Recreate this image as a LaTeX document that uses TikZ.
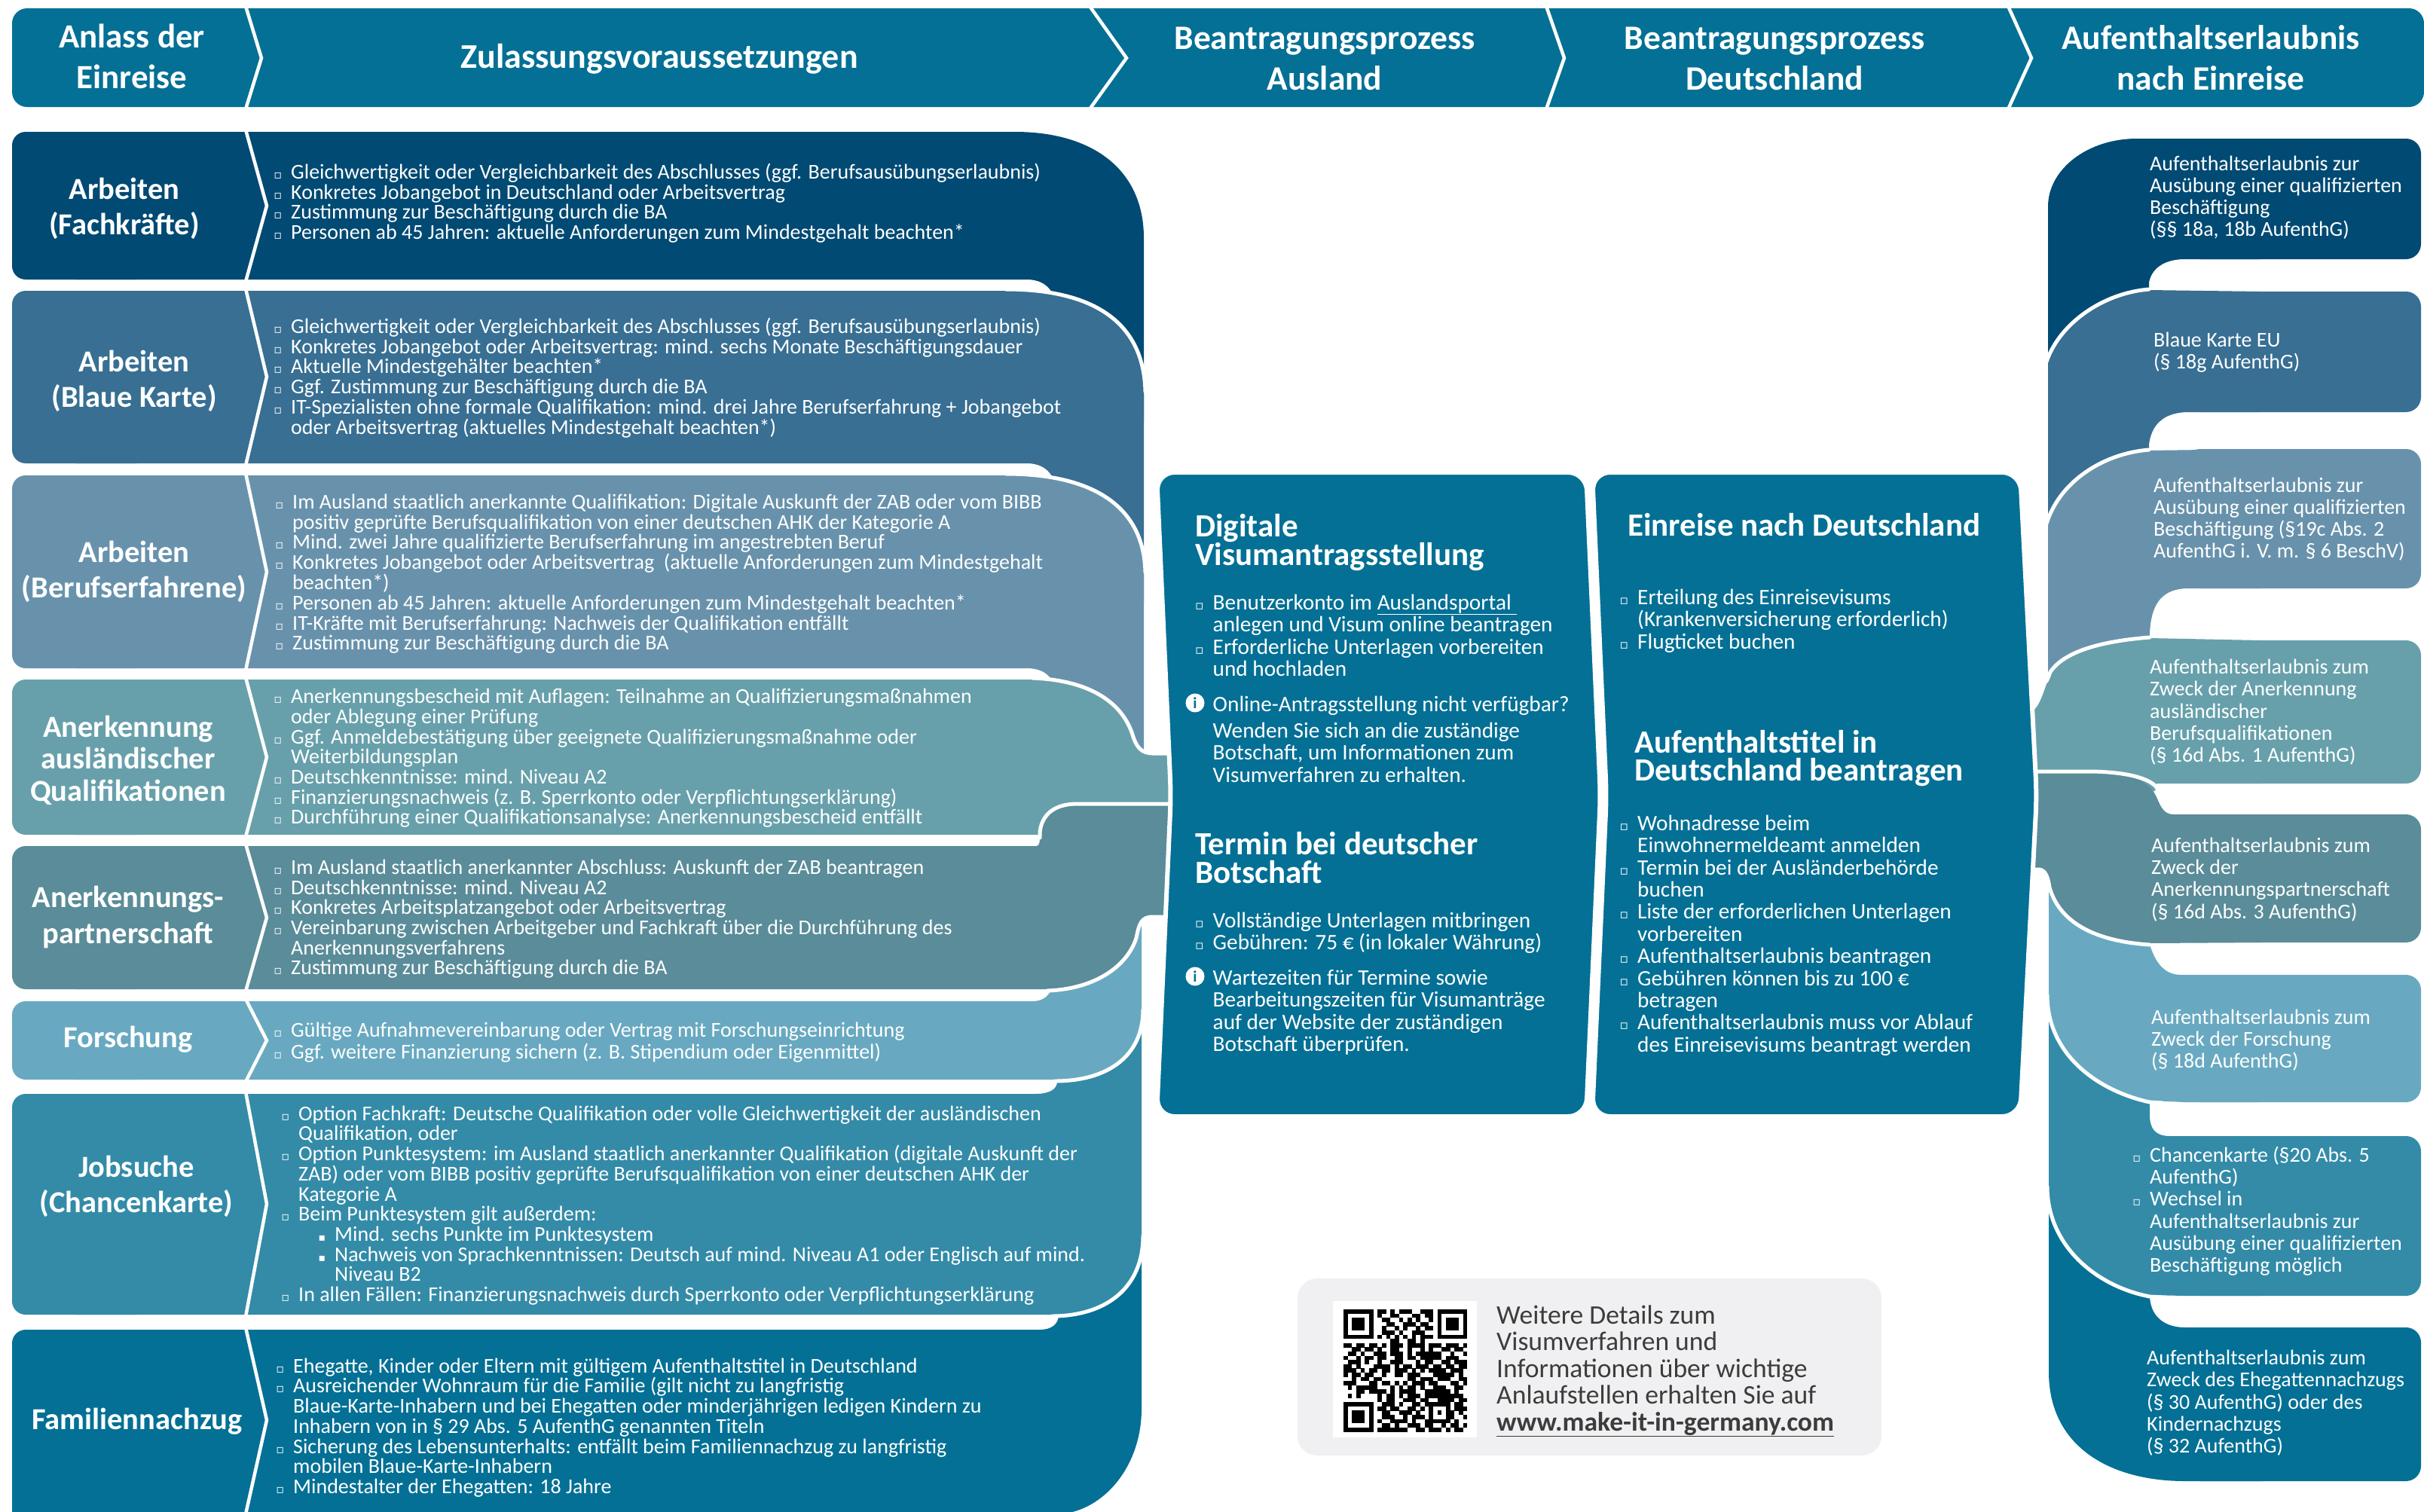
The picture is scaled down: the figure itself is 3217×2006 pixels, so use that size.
\documentclass[tikz,border=0pt]{standalone}
\usepackage{fontspec}
\setmainfont{Carlito}
\newfontfamily\symf{DejaVu Sans}
\definecolor{ca}{HTML}{004A73}
\definecolor{cb}{HTML}{386F93}
\definecolor{cc}{HTML}{6892AC}
\definecolor{cd}{HTML}{67A0AB}
\definecolor{ce}{HTML}{5A8C99}
\definecolor{cf}{HTML}{68A9C1}
\definecolor{cg}{HTML}{338BA8}
\definecolor{ch}{HTML}{047095}
\definecolor{cgrey}{HTML}{F0F0F2}
\definecolor{ctxt}{HTML}{3C3C3B}
\tikzset{
  txt/.style={anchor=north west,inner sep=0pt,align=left,text=white},
  hd/.style={anchor=center,inner sep=0pt,align=center,text=white},
  cut/.style={draw=white,line width=5pt,line cap=round},
  chev/.style={draw=white,line width=4.5pt},
  cbox/.style={fill=ch,draw=white,line width=6pt,rounded corners=24pt},
  infoi/.style={circle,fill=white,inner sep=0pt,minimum size=25pt,text=ch,font=\fontsize{21}{21}\selectfont\bfseries},
}
\newcommand\tb[6]{\node[txt,font=\fontsize{#4}{#5}\selectfont,yshift={0.8*#4-1}] (#1) at (#2,#3) {\leavevmode\rule{0pt}{0.8\dimexpr#4pt\relax}#6};}
\newcommand\tbb[6]{\node[txt,font=\fontsize{#4}{#5}\selectfont\bfseries,yshift={0.8*#4-1}] (#1) at (#2,#3) {\leavevmode\rule{0pt}{0.8\dimexpr#4pt\relax}#6};}
\newcommand\hdn[6]{\node[hd,font=\fontsize{#4}{#5}\selectfont\bfseries] (#1) at (#2,#3) {#6};}
\newcommand\bl{\leavevmode\llap{{\symf\fontsize{16}{16}\selectfont ▫}\hspace{12pt}}}
\newcommand\blb{\leavevmode\llap{{\symf\fontsize{17}{17}\selectfont ▫}\hspace{12pt}}}
\newcommand\sbl{\leavevmode\hspace*{48pt}\llap{{\symf\fontsize{14}{14}\selectfont ▪}\hspace{12pt}}}
\newcount\qrcol \newcount\qrrow
\def\qrline#1{\qrcol=0 \qrscan#1;\advance\qrrow by 1 }
\def\qrscan#1{\ifx#1;\else\ifnum#1=1 \fill[black] ({1783+5.66*\the\qrcol},{1738+5.6*\the\qrrow}) rectangle +(5.8,5.8);\fi\advance\qrcol by 1 \expandafter\qrscan\fi}
\newcommand\rrect[3]{\fill[#1,rounded corners=20pt] (2900,#2) rectangle (3213,#3);}
\begin{document}
\begin{tikzpicture}[x=1pt,y=-1pt]
\useasboundingbox (0,0) rectangle (3217,2006);
\clip (0,0) rectangle (3217,2006);
% header bar
\fill[ch,rounded corners=20pt] (16,11) rectangle (3217,142);
\draw[chev] (326,8) -- (347,77) -- (326,145);
\draw[chev] (1446,8) -- (1495,77) -- (1446,145);
\draw[chev] (2052,8) -- (2076,77) -- (2052,145);
\draw[chev] (2665,8) -- (2696,77) -- (2665,145);
\hdn{h1}{175}{75}{45}{54}{Anlass der\\Einreise}
\hdn{h2}{875}{78}{46}{54}{Zulassungsvoraussetzungen}
\hdn{h3}{1758}{78}{45.5}{54}{Beantragungsprozess\\Ausland}
\hdn{h4}{2355}{78}{45.5}{54}{Beantragungsprozess\\Deutschland}
\hdn{h5}{2934}{77}{45.5}{54}{Aufenthaltserlaubnis\\nach Einreise}
% left column: upper stack
\fill[ca] (100,175) -- (1347,175) .. controls (1450,175) and (1518,225) .. (1518,316) -- (1518,560) -- (1396,560) -- (1396,388) .. controls (1390,378) and (1380,371) .. (1362,371) -- (100,371) -- cycle;
\fill[ca,rounded corners=18pt] (16,175) rectangle (200,371);
\fill[cb] (100,386) -- (1335,386) .. controls (1440,386) and (1518,420) .. (1518,520) -- (1518,800) -- (1396,800) -- (1396,632) .. controls (1390,622) and (1380,615) .. (1362,615) -- (100,615) -- cycle;
\draw[cut] (1335,384) .. controls (1440,384) and (1518,420) .. (1520,520);
\fill[cb,rounded corners=18pt] (16,386) rectangle (200,615);
\fill[cc] (100,631) -- (1335,631) .. controls (1440,631) and (1518,665) .. (1518,760) -- (1518,1040) -- (1396,1040) -- (1396,903) .. controls (1390,893) and (1380,887) .. (1362,887) -- (100,887) -- cycle;
\draw[cut] (1335,629) .. controls (1440,629) and (1518,665) .. (1520,760);
\fill[cc,rounded corners=18pt] (16,631) rectangle (200,887);
\fill[cd] (100,902) -- (1370,902) .. controls (1450,905) and (1490,935) .. (1503,975) .. controls (1508,992) and (1515,1000) .. (1530,1000) -- (1600,1000) -- (1600,1067) -- (1430,1067) .. controls (1395,1067) and (1382,1085) .. (1380,1105) -- (1378,1108) -- (100,1108) -- cycle;
\draw[cut] (1370,900) .. controls (1450,903) and (1490,935) .. (1503,975) .. controls (1508,992) and (1515,1000) .. (1530,1000) -- (1600,1000);
\fill[cd,rounded corners=18pt] (16,902) rectangle (200,1108);
% left column: lower stack
\fill[ch] (100,1765) -- (1380,1765) .. controls (1395,1765) and (1405,1758) .. (1405,1745) -- (1405,1640) -- (1515,1640) -- (1515,1870) .. controls (1515,1950) and (1460,2010) .. (1400,2010) -- (100,2010) -- cycle;
\fill[ch,rounded corners=18pt] (16,1765) rectangle (200,2040);
\fill[cg] (100,1452) -- (1375,1452) .. controls (1390,1452) and (1403,1447) .. (1403,1436) -- (1403,1340) -- (1515,1340) -- (1515,1640) .. controls (1515,1710) and (1465,1745) .. (1400,1745) -- (100,1745) -- cycle;
\draw[cut] (1517,1640) .. controls (1517,1712) and (1465,1747) .. (1396,1747);
\fill[cg,rounded corners=18pt] (16,1452) rectangle (200,1745);
\fill[cf] (100,1329) -- (1370,1329) .. controls (1385,1329) and (1395,1322) .. (1400,1300) -- (1400,1200) -- (1515,1200) -- (1515,1340) .. controls (1515,1400) and (1470,1433) .. (1400,1433) -- (100,1433) -- cycle;
\draw[cut] (1517,1340) .. controls (1517,1402) and (1470,1435) .. (1400,1435);
\fill[cf,rounded corners=18pt] (16,1329) rectangle (200,1433);
\fill[ce] (100,1123) -- (1375,1123) .. controls (1380,1123) and (1380,1118) .. (1380,1105) .. controls (1382,1085) and (1395,1067) .. (1430,1067) -- (1600,1067) -- (1600,1217) -- (1530,1217) .. controls (1515,1217) and (1512,1225) .. (1508,1245) .. controls (1495,1285) and (1450,1313) .. (1390,1313) -- (100,1313) -- cycle;
\draw[cut] (1380,1112) -- (1380,1105) .. controls (1382,1085) and (1395,1067) .. (1430,1067) -- (1600,1067);
\draw[cut] (1600,1217) -- (1530,1217) .. controls (1515,1217) and (1512,1225) .. (1508,1245) .. controls (1495,1285) and (1450,1313) .. (1390,1315);
\fill[ce,rounded corners=18pt] (16,1123) rectangle (200,1313);
% chevrons on the rows
\draw[chev] (326,172) -- (354,273) -- (326,374);
\draw[chev] (326,383) -- (354,500) -- (326,618);
\draw[chev] (326,628) -- (354,759) -- (326,890);
\draw[chev] (326,899) -- (354,1005) -- (326,1111);
\draw[chev] (326,1120) -- (354,1218) -- (326,1316);
\draw[chev] (326,1326) -- (354,1381) -- (326,1436);
\draw[chev] (326,1449) -- (354,1598) -- (326,1748);
\draw[chev] (326,1762) -- (354,1885) -- (326,2010);
% right column: upper stack
\fill[ca] (3000,184) -- (2836,184) .. controls (2770,184) and (2718,225) .. (2718,274) -- (2718,520) -- (2852,520) -- (2852,375) .. controls (2855,358) and (2870,344) .. (2900,344) -- (3000,344) -- cycle;
\rrect{ca}{184}{344}
\fill[cb] (3000,387) -- (2852,385) .. controls (2790,390) and (2735,430) .. (2718,480) -- (2718,760) -- (2852,760) -- (2852,590) .. controls (2855,565) and (2870,547) .. (2905,547) -- (3000,547) -- cycle;
\draw[cut] (2852,384) .. controls (2790,389) and (2733,430) .. (2716,480);
\rrect{cb}{387}{547}
\fill[cc] (3000,596) -- (2852,598) .. controls (2790,603) and (2735,640) .. (2718,695) -- (2718,960) -- (2853,960) -- (2853,840) .. controls (2855,800) and (2870,781) .. (2905,781) -- (3000,781) -- cycle;
\draw[cut] (2852,597) .. controls (2790,602) and (2733,640) .. (2716,695);
\rrect{cc}{596}{781}
\fill[cd] (3000,850) -- (2853,847) .. controls (2790,852) and (2740,865) .. (2722,893) .. controls (2712,915) and (2708,940) .. (2695,945) -- (2695,1050) -- (2860,1050) -- (2862,1040) -- (3000,1040) -- cycle;
\draw[cut] (2853,846) .. controls (2790,851) and (2740,864) .. (2721,892) .. controls (2718,900) and (2717,903) .. (2715,905);
\rrect{cd}{850}{1040}
% right column: lower stack
\fill[ch] (3000,1762) -- (2900,1762) .. controls (2870,1762) and (2853,1745) .. (2853,1719) -- (2853,1580) -- (2719,1580) -- (2719,1821) .. controls (2719,1920) and (2800,1966) .. (2900,1966) -- (3000,1966) -- cycle;
\rrect{ch}{1762}{1966}
\fill[cg] (3000,1508) -- (2880,1508) .. controls (2860,1508) and (2853,1498) .. (2853,1480) -- (2853,1330) -- (2719,1330) -- (2719,1575) .. controls (2719,1650) and (2780,1705) .. (2853,1719) -- (2900,1720) -- (3000,1720) -- cycle;
\draw[cut] (2717,1575) .. controls (2717,1652) and (2780,1707) .. (2853,1721) -- (2870,1722);
\rrect{cg}{1508}{1720}
\fill[cf] (3000,1294) -- (2895,1294) .. controls (2870,1294) and (2860,1275) .. (2853,1254) -- (2853,1170) -- (2719,1170) -- (2719,1321) .. controls (2719,1395) and (2780,1445) .. (2853,1461) -- (2900,1463) -- (3000,1463) -- cycle;
\draw[cut] (2717,1321) .. controls (2717,1397) and (2780,1447) .. (2853,1463) -- (2870,1464);
\rrect{cf}{1294}{1463}
\fill[ce] (3000,1081) -- (2885,1081) .. controls (2872,1081) and (2868,1072) .. (2862,1058) .. controls (2850,1030) and (2810,1024) .. (2770,1024) -- (2690,1024) -- (2690,1154) -- (2705,1154) .. controls (2715,1154) and (2718,1165) .. (2720,1178) .. controls (2735,1230) and (2790,1250) .. (2853,1252) -- (3000,1251) -- cycle;
\draw[cut] (2862,1045) .. controls (2850,1030) and (2810,1024) .. (2770,1024) -- (2690,1024);
\draw[cut] (2690,1154) -- (2705,1154) .. controls (2715,1154) and (2718,1165) .. (2720,1178) .. controls (2735,1230) and (2790,1250) .. (2853,1254);
\rrect{ce}{1081}{1251}
% centre boxes
\path[cbox] (1535,627) -- (2105,627) -- (2124,1056) -- (2105,1482) -- (1535,1482) -- (1554,1056) -- cycle;
\path[cbox] (2113,627) -- (2681,627) -- (2703,1056) -- (2681,1482) -- (2113,1482) -- (2132,1056) -- cycle;
% QR card
\fill[cgrey,rounded corners=26pt] (1722,1697) rectangle (2497,1932);
\fill[white] (1769,1727) rectangle (1960,1908);
\qrrow=0
\qrline{11111110 1101011100111 0 1111111}
\qrline{10000010 1001100011011 0 1000001}
\qrline{10111010 0110010101001 0 1011101}
\qrline{10111010 0011001110110 0 1011101}
\qrline{10111010 0100101001011 0 1011101}
\qrline{10000010 0111010011100 0 1000001}
\qrline{11111110 1010101010111 0 1111111}
\qrline{00000000 0001100110100 0 0000000}
\qrline{11011 01101 01110 11110 11101 1101}
\qrline{00110 11010 01100 10010 10011 0110}
\qrline{01101 00111 01110 10111 11100 1001}
\qrline{10010 11011 00110 11011 11101 1100}
\qrline{01110 10010 01110 00101 10011 0111}
\qrline{11010 00111 10101 10111 01101 1011}
\qrline{11101 01101 10111 01010 11110 1110}
\qrline{10110 11001 00110 11100 01111 1010}
\qrline{00101 10110 00000 11011 10111 0011}
\qrline{11100 01101 10101 01110 11000 1101}
\qrline{01011 11100 01010 11010 01110 0110}
\qrline{00011 01111 01011 11001 11111 0100}
\qrline{01010 00010 11010 11101 11111 1110}
\qrline{00000000 10110 01110 11001 11101 1}
\qrline{11111110 01110 10011 01111 11011 0}
\qrline{10000010 11011 00110 10100 01011 1}
\qrline{10111010 01100 11101 00101 01101 0}
\qrline{10111010 01110 01011 10100 01100 1}
\qrline{10111010 10011 11010 01111 11010 0}
\qrline{10000010 01101 00111 01100 10110 1}
\qrline{11111110 11111 11001 10111 01011 0}
% row headings
\hdn{a1}{165}{277}{40.5}{47.5}{Arbeiten\\(Fachkräfte)}
\hdn{a2}{178}{506}{40.5}{47.5}{Arbeiten\\(Blaue Karte)}
\hdn{a3}{178}{759}{40.5}{47.5}{Arbeiten\\(Berufserfahrene)}
\hdn{a4}{170}{1009}{40.5}{42.5}{Anerkennung\\ausländischer\\Qualifikationen}
\hdn{a5}{170}{1217}{40.5}{48}{Anerkennungs-\\partnerschaft}
\hdn{a6}{170}{1380}{40.5}{48}{Forschung}
\hdn{a7}{181}{1575}{40.5}{47.5}{Jobsuche\\(Chancenkarte)}
\hdn{a8}{182}{1887}{40.5}{48}{Familiennachzug}
% row bodies
\tb{b1}{386}{236}{28}{26.8}{\bl Gleichwertigkeit oder Vergleichbarkeit des Abschlusses (ggf. Berufsausübungserlaubnis)\\\bl Konkretes Jobangebot in Deutschland oder Arbeitsvertrag\\\bl Zustimmung zur Beschäftigung durch die BA\\\bl Personen ab 45 Jahren: aktuelle Anforderungen zum Mindestgehalt beachten*}
\tb{b2}{386}{441}{28}{26.8}{\bl Gleichwertigkeit oder Vergleichbarkeit des Abschlusses (ggf. Berufsausübungserlaubnis)\\\bl Konkretes Jobangebot oder Arbeitsvertrag: mind. sechs Monate Beschäftigungsdauer\\\bl Aktuelle Mindestgehälter beachten*\\\bl Ggf. Zustimmung zur Beschäftigung durch die BA\\\bl IT-Spezialisten ohne formale Qualifikation: mind. drei Jahre Berufserfahrung + Jobangebot\\oder Arbeitsvertrag (aktuelles Mindestgehalt beachten*)}
\tb{b3}{388}{674}{28}{26.8}{\bl Im Ausland staatlich anerkannte Qualifikation: Digitale Auskunft der ZAB oder vom BIBB\\positiv geprüfte Berufsqualifikation von einer deutschen AHK der Kategorie A\\\bl Mind. zwei Jahre qualifizierte Berufserfahrung im angestrebten Beruf\\\bl Konkretes Jobangebot oder Arbeitsvertrag\ \ (aktuelle Anforderungen zum Mindestgehalt\\beachten*)\\\bl Personen ab 45 Jahren: aktuelle Anforderungen zum Mindestgehalt beachten*\\\bl IT-Kräfte mit Berufserfahrung: Nachweis der Qualifikation entfällt\\\bl Zustimmung zur Beschäftigung durch die BA}
\tb{b4}{386}{932.5}{28}{26.7}{\bl Anerkennungsbescheid mit Auflagen: Teilnahme an Qualifizierungsmaßnahmen\\oder Ablegung einer Prüfung\\\bl Ggf. Anmeldebestätigung über geeignete Qualifizierungsmaßnahme oder\\Weiterbildungsplan\\\bl Deutschkenntnisse: mind. Niveau A2\\\bl Finanzierungsnachweis (z. B. Sperrkonto oder Verpflichtungserklärung)\\\bl Durchführung einer Qualifikationsanalyse: Anerkennungsbescheid entfällt}
\tb{b5}{386}{1159.5}{28}{26.6}{\bl Im Ausland staatlich anerkannter Abschluss: Auskunft der ZAB beantragen\\\bl Deutschkenntnisse: mind. Niveau A2\\\bl Konkretes Arbeitsplatzangebot oder Arbeitsvertrag\\\bl Vereinbarung zwischen Arbeitgeber und Fachkraft über die Durchführung des\\Anerkennungsverfahrens\\\bl Zustimmung zur Beschäftigung durch die BA}
\tb{b6}{386}{1375}{28}{29}{\bl Gültige Aufnahmevereinbarung oder Vertrag mit Forschungseinrichtung\\\bl Ggf. weitere Finanzierung sichern (z. B. Stipendium oder Eigenmittel)}
\tb{b7}{396}{1486}{28}{26.7}{\bl Option Fachkraft: Deutsche Qualifikation oder volle Gleichwertigkeit der ausländischen\\Qualifikation, oder\\\bl Option Punktesystem: im Ausland staatlich anerkannter Qualifikation (digitale Auskunft der\\ZAB) oder vom BIBB positiv geprüfte Berufsqualifikation von einer deutschen AHK der\\Kategorie A\\\bl Beim Punktesystem gilt außerdem:\\\sbl Mind. sechs Punkte im Punktesystem\\\sbl Nachweis von Sprachkenntnissen: Deutsch auf mind. Niveau A1 oder Englisch auf mind.\\\leavevmode\hspace*{48pt}Niveau B2\\\bl In allen Fällen: Finanzierungsnachweis durch Sperrkonto oder Verpflichtungserklärung}
\tb{b8}{389}{1821}{28}{26.7}{\bl Ehegatte, Kinder oder Eltern mit gültigem Aufenthaltstitel in Deutschland\\\bl Ausreichender Wohnraum für die Familie (gilt nicht zu langfristig\\Blaue-Karte-Inhabern und bei Ehegatten oder minderjährigen ledigen Kindern zu\\Inhabern von in § 29 Abs. 5 AufenthG genannten Titeln\\\bl Sicherung des Lebensunterhalts: entfällt beim Familiennachzug zu langfristig\\mobilen Blaue-Karte-Inhabern\\\bl Mindestalter der Ehegatten: 18 Jahre}
% centre box 1 text
\tbb{c1}{1586}{711}{43}{37}{Digitale\\Visumantragsstellung}
\tb{c2}{1609.5}{808}{29.3}{29.4}{\blb Benutzerkonto im \underline{Auslandsportal\ }\\anlegen und Visum online beantragen\\\blb Erforderliche Unterlagen vorbereiten\\und hochladen}
\node[infoi] (i1) at (1586,933) {i};
\tb{c3}{1609.5}{943}{29.3}{29.4}{Online-Antragsstellung nicht verfügbar?}
\tb{c4}{1609.5}{978}{29.3}{29.4}{Wenden Sie sich an die zuständige\\Botschaft, um Informationen zum\\Visumverfahren zu erhalten.}
\tbb{c5}{1586}{1133}{43}{38}{Termin bei deutscher\\Botschaft}
\tb{c6}{1609.5}{1230}{29.3}{29.4}{\blb Vollständige Unterlagen mitbringen\\\blb Gebühren: 75 € (in lokaler Währung)}
\node[infoi] (i2) at (1586,1296) {i};
\tb{c7}{1609.5}{1306}{29.3}{29.4}{Wartezeiten für Termine sowie\\Bearbeitungszeiten für Visumanträge\\auf der Website der zuständigen\\Botschaft überprüfen.}
% centre box 2 text
\tbb{d1}{2160}{710}{43}{37}{Einreise nach Deutschland}
\tb{d2}{2173}{801}{29.3}{29.4}{\blb Erteilung des Einreisevisums\\(Krankenversicherung erforderlich)\\\blb Flugticket buchen}
\tbb{d3}{2169}{998.5}{43}{37}{Aufenthaltstitel in\\Deutschland beantragen}
\tb{d4}{2173}{1101}{29.3}{29.4}{\blb Wohnadresse beim\\Einwohnermeldeamt anmelden\\\blb Termin bei der Ausländerbehörde\\buchen\\\blb Liste der erforderlichen Unterlagen\\vorbereiten\\\blb Aufenthaltserlaubnis beantragen\\\blb Gebühren können bis zu 100 €\\betragen\\\blb Aufenthaltserlaubnis muss vor Ablauf\\des Einreisevisums beantragt werden}
% right column text
\tb{r1}{2853}{225}{28}{29.2}{Aufenthaltserlaubnis zur\\Ausübung einer qualifizierten\\Beschäftigung\\(§§ 18a, 18b AufenthG)}
\tb{r2}{2858}{459.5}{28}{29.2}{Blaue Karte EU\\(§ 18g AufenthG)}
\tb{r3}{2858}{652}{28}{29.2}{Aufenthaltserlaubnis zur\\Ausübung einer qualifizierten\\Beschäftigung (§19c Abs. 2\\AufenthG i. V. m. § 6 BeschV)}
\tb{r4}{2853}{893}{28}{29.4}{Aufenthaltserlaubnis zum\\Zweck der Anerkennung\\ausländischer\\Berufsqualifikationen\\(§ 16d Abs. 1 AufenthG)}
\tb{r5}{2855}{1130}{28}{29.3}{Aufenthaltserlaubnis zum\\Zweck der\\Anerkennungspartnerschaft\\(§ 16d Abs. 3 AufenthG)}
\tb{r6}{2855}{1358}{28}{29}{Aufenthaltserlaubnis zum\\Zweck der Forschung\\(§ 18d AufenthG)}
\tb{r7}{2853}{1541}{28}{29.3}{\bl Chancenkarte (§20 Abs. 5\\AufenthG)\\\bl Wechsel in\\Aufenthaltserlaubnis zur\\Ausübung einer qualifizierten\\Beschäftigung möglich}
\tb{r8}{2849}{1810}{28}{29.4}{Aufenthaltserlaubnis zum\\Zweck des Ehegattennachzugs\\(§ 30 AufenthG) oder des\\Kindernachzugs\\(§ 32 AufenthG)}
% card text
\node[txt,text=ctxt,font=\fontsize{35.6}{35.5}\selectfont,yshift={0.8*35.6-1}] (q1) at (1986,1756) {\leavevmode\rule{0pt}{0.8\dimexpr35.6pt\relax}Weitere Details zum\\Visumverfahren und\\Informationen über wichtige\\Anlaufstellen erhalten Sie auf\\\textbf{\underline{www.make-it-in-germany.com}}};
\end{tikzpicture}
\end{document}
